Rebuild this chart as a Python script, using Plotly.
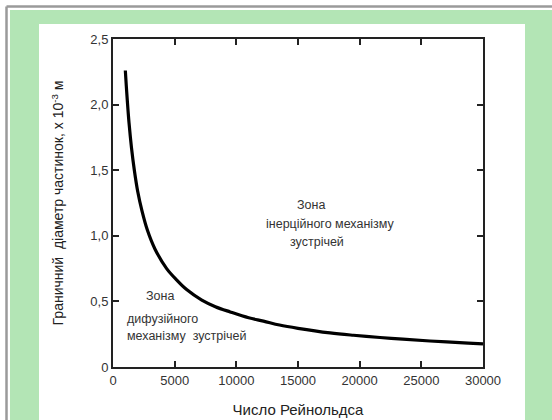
import plotly.graph_objects as go

# ---- data ----
reynolds = [1000, 1080, 1160, 1300, 1500, 1730, 2000, 2350, 2800, 3400, 4350,
            5200, 5970, 7200, 8300, 9500, 11000, 12200, 13500, 15000, 17600,
            19500, 21650, 23500, 25700, 28800, 30000]
diameter = [2.26, 2.14, 2.03, 1.86, 1.67, 1.50, 1.34, 1.19, 1.04, 0.90, 0.75,
            0.66, 0.59, 0.51, 0.46, 0.42, 0.375, 0.35, 0.32, 0.295, 0.26,
            0.242, 0.225, 0.212, 0.198, 0.182, 0.176]

x_tickvals = [0, 5000, 10000, 15000, 20000, 25000, 30000]
x_ticktext = ["0", "5000", "10000", "15000", "20000", "25000", "30000"]
y_tickvals = [0, 0.5, 1.0, 1.5, 2.0, 2.5]
y_ticktext = ["0", "0,5", "1,0", "1,5", "2,0", "2,5"]

x_title = "Число Рейнольдса"
y_title = "Граничний  діаметр частинок, x 10<sup>-3</sup> м"

zone_labels = [
    ("Зона", 16050, 1.235, "center"),
    ("інерційного механізму", 17600, 1.09, "center"),
    ("зустрічей", 16550, 0.953, "center"),
    ("Зона", 3800, 0.541, "center"),
    ("дифузійного", 950, 0.366, "left"),
    ("механізму  зустрічей", 950, 0.236, "left"),
]

# ---- layout geometry (pixels) ----
W, H = 552, 420
PL, PR, PT, PB = 113, 483, 39, 367


def px(xp):
    return (xp - PL) / (PR - PL)


def py(yp):
    return (PB - yp) / (PB - PT)


FONT = "Liberation Sans, Arial, sans-serif"

fig = go.Figure()
fig.add_trace(go.Scatter(
    x=reynolds, y=diameter, mode="lines",
    line=dict(color="black", width=3.2, shape="spline", smoothing=1),
    showlegend=False, hoverinfo="skip",
))

shapes = [
    # green frame
    dict(type="rect", xref="paper", yref="paper", x0=px(10), x1=px(560),
         y0=py(430), y1=py(10), fillcolor="#b3e5b5", line=dict(width=0),
         layer="below"),
    # white panel
    dict(type="rect", xref="paper", yref="paper", x0=px(39), x1=px(525),
         y0=py(430), y1=py(24), fillcolor="white", line=dict(width=0),
         layer="below"),
    # grey border lines
    dict(type="line", xref="paper", yref="paper", x0=px(6.5), x1=px(560),
         y0=py(6.5), y1=py(6.5), line=dict(color="#9a9a9a", width=2.5)),
    dict(type="line", xref="paper", yref="paper", x0=px(6.5), x1=px(6.5),
         y0=py(6.5), y1=py(430), line=dict(color="#9a9a9a", width=2.5)),
]

annotations = []
for text, xv, yv, anchor in zone_labels:
    annotations.append(dict(
        x=xv, y=yv, xref="x", yref="y", text=text, showarrow=False,
        xanchor=anchor, yanchor="middle",
        font=dict(family=FONT, size=12.5, color="#333333"),
    ))

fig.update_layout(
    width=W, height=H,
    margin=dict(l=PL, r=W - PR, t=PT, b=H - PB, pad=0, autoexpand=False),
    paper_bgcolor="white",
    plot_bgcolor="white",
    shapes=shapes,
    annotations=annotations,
    font=dict(family=FONT, color="#333333"),
    xaxis=dict(
        range=[0, 30000], tickvals=x_tickvals, ticktext=x_ticktext,
        ticks="inside", ticklen=6, tickwidth=1.5, tickcolor="#222",
        showline=True, linecolor="#222", linewidth=2, mirror="ticks",
        showgrid=False, zeroline=False, automargin=False,
        tickfont=dict(family=FONT, size=13, color="#333"),
        title=dict(text=x_title, standoff=18,
                   font=dict(family=FONT, size=15, color="#222")),
    ),
    yaxis=dict(
        range=[0, 2.5], tickvals=y_tickvals, ticktext=y_ticktext,
        ticks="inside", ticklen=6, tickwidth=1.5, tickcolor="#222",
        showline=True, linecolor="#222", linewidth=2, mirror="ticks",
        showgrid=False, zeroline=False, automargin=False,
        tickfont=dict(family=FONT, size=13, color="#333"),
        title=dict(text=y_title, standoff=23,
                   font=dict(family=FONT, size=14, color="#222")),
    ),
)

fig.write_html(
    "out.html",
    config={"displayModeBar": False},
    post_script="document.body.style.margin='0';document.body.style.overflow='hidden';",
)
